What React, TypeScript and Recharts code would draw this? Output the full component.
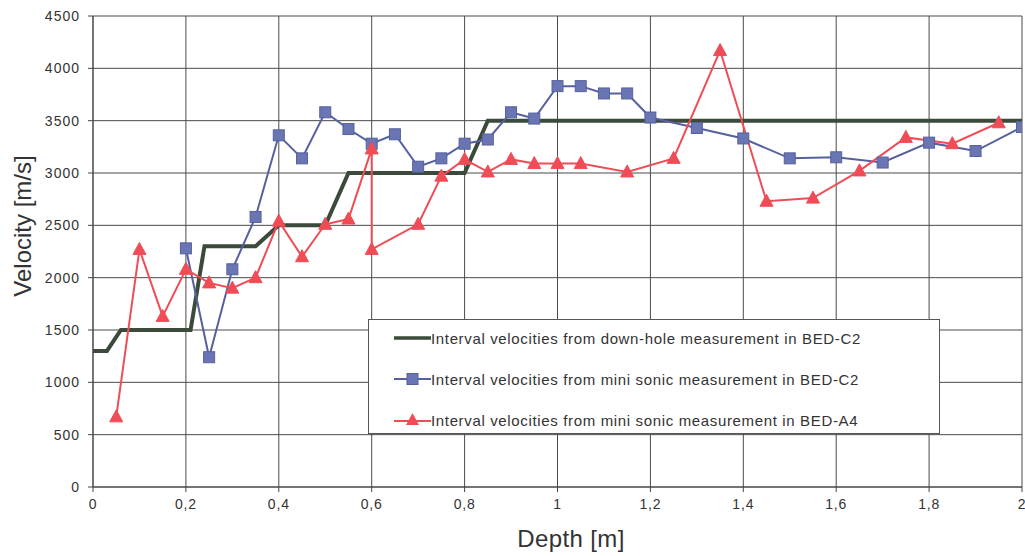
import React from 'react';
import { LineChart, Line, XAxis, YAxis, CartesianGrid, Legend, Label } from 'recharts';

// Depth ticks / labels
const xTicks = [0, 0.2, 0.4, 0.6, 0.8, 1, 1.2, 1.4, 1.6, 1.8, 2];
const xTickLabels = ['0', '0,2', '0,4', '0,6', '0,8', '1', '1,2', '1,4', '1,6', '1,8', '2'];
const yTicks = [0, 500, 1000, 1500, 2000, 2500, 3000, 3500, 4000, 4500];

// Interval velocities from down-hole measurement in BED-C2 (step profile)
const downholeDepth = [0, 0.03, 0.06, 0.21, 0.24, 0.35, 0.4, 0.5, 0.55, 0.8, 0.85, 2.0];
const downholeVel = [1300, 1300, 1500, 1500, 2300, 2300, 2500, 2500, 3000, 3000, 3500, 3500];

// Mini sonic BED-C2
const sonicC2Depth = [0.2, 0.25, 0.3, 0.35, 0.4, 0.45, 0.5, 0.55, 0.6, 0.65, 0.7, 0.75, 0.8, 0.85, 0.9, 0.95, 1.0, 1.05, 1.1, 1.15, 1.2, 1.3, 1.4, 1.5, 1.6, 1.7, 1.8, 1.9, 2.0];
const sonicC2Vel = [2280, 1240, 2080, 2580, 3360, 3140, 3580, 3420, 3280, 3370, 3060, 3140, 3280, 3320, 3580, 3520, 3830, 3830, 3760, 3760, 3530, 3430, 3330, 3140, 3150, 3100, 3290, 3210, 3440];

// Mini sonic BED-A4
const sonicA4Depth = [0.05, 0.1, 0.15, 0.2, 0.25, 0.3, 0.35, 0.4, 0.45, 0.5, 0.55, 0.6, 0.6, 0.7, 0.75, 0.8, 0.85, 0.9, 0.95, 1.0, 1.05, 1.15, 1.25, 1.35, 1.45, 1.55, 1.65, 1.75, 1.85, 1.95];
const sonicA4Vel = [670, 2270, 1630, 2080, 1950, 1900, 2000, 2540, 2200, 2510, 2560, 3230, 2270, 2510, 2970, 3130, 3010, 3130, 3090, 3090, 3090, 3010, 3140, 4170, 2730, 2760, 3020, 3340, 3280, 3480];

const seriesNames = [
  'Interval velocities from down-hole measurement in BED-C2',
  'Interval velocities from mini sonic measurement in BED-C2',
  'Interval velocities from mini sonic measurement in BED-A4',
];

const toPoints = (xs: number[], ys: number[]) => xs.map((x, i) => ({ x, v: ys[i] }));
const downholeData = toPoints(downholeDepth, downholeVel);
const sonicC2Data = toPoints(sonicC2Depth, sonicC2Vel);
const sonicA4Data = toPoints(sonicA4Depth, sonicA4Vel);

const FONT = '"Liberation Sans", Arial, sans-serif';
const GREEN = '#3b4a3b';
const BLUE_LINE = '#56609e';
const BLUE_FILL = '#6a76b3';
const RED = '#f04c56';

const SquareDot = (props: any) => {
  const { cx, cy, index } = props;
  if (cx == null || cy == null) return <g key={`s${index}`} />;
  return <rect key={`s${index}`} x={cx - 5.5} y={cy - 5.5} width={11} height={11} fill={BLUE_FILL} stroke={BLUE_LINE} strokeWidth={1} />;
};

const TriDot = (props: any) => {
  const { cx, cy, index } = props;
  if (cx == null || cy == null) return <g key={`t${index}`} />;
  const p = `${cx},${cy - 7} ${cx + 6.5},${cy + 5} ${cx - 6.5},${cy + 5}`;
  return <polygon key={`t${index}`} points={p} fill={RED} stroke={RED} strokeWidth={1} />;
};

const LegendContent = () => (
  <div
    style={{
      width: 572,
      height: 115,
      background: '#fff',
      border: '1px solid #555',
      boxSizing: 'border-box',
      fontFamily: FONT,
      fontSize: 15,
      color: '#333',
      paddingTop: 1,
    }}
  >
    {seriesNames.map((name, i) => (
      <div key={name} style={{ display: 'flex', alignItems: 'center', height: 34, marginBottom: i < 2 ? 7 : 0, paddingLeft: 25, whiteSpace: 'nowrap' }}>
        <svg width={37} height={16} style={{ flex: 'none' }}>
          {i === 0 && <line x1={0} y1={8} x2={37} y2={8} stroke={GREEN} strokeWidth={3.5} />}
          {i === 1 && (
            <g>
              <line x1={0} y1={8} x2={37} y2={8} stroke={BLUE_LINE} strokeWidth={2} />
              <rect x={13} y={2.5} width={11} height={11} fill={BLUE_FILL} stroke={BLUE_LINE} />
            </g>
          )}
          {i === 2 && (
            <g>
              <line x1={0} y1={9} x2={37} y2={9} stroke={RED} strokeWidth={2} />
              <polygon points="18.5,1 25,13 12,13" fill={RED} />
            </g>
          )}
        </svg>
        <span style={{ letterSpacing: 0.65 }}>{name}</span>
      </div>
    ))}
  </div>
);

export default function App() {
  return (
    <div style={{ position: 'absolute', left: 0, top: 0, width: 1025, height: 556, background: '#fff' }}>
      <LineChart width={1025} height={556} margin={{ top: 16, right: 3, left: 33, bottom: 39 }}>
        <CartesianGrid stroke="#4a4a4a" strokeWidth={1} />
        <XAxis
          type="number"
          dataKey="x"
          domain={[0, 2]}
          ticks={xTicks}
          tickFormatter={(v: number) => xTickLabels[xTicks.indexOf(v)] ?? String(v).replace('.', ',')}
          height={30}
          tickSize={5}
          tickMargin={7}
          stroke="#444"
          tick={{ fill: '#333', fontSize: 14, fontFamily: FONT, letterSpacing: 0.8 }}
          interval={0}
          allowDataOverflow
        >
          <Label
            content={() => (
              <text x={571} y={547} textAnchor="middle" fontFamily={FONT} fontSize={24} fill="#333" letterSpacing={0.4}>
                Depth [m]
              </text>
            )}
          />
        </XAxis>
        <YAxis
          type="number"
          domain={[0, 4500]}
          ticks={yTicks}
          width={60}
          tickSize={5}
          tickMargin={8}
          stroke="#444"
          tick={{ fill: '#333', fontSize: 14, fontFamily: FONT, letterSpacing: 1 }}
          interval={0}
          allowDataOverflow
        >
          <Label
            content={() => (
              <text x={31} y={226} transform="rotate(-90 31 226)" textAnchor="middle" fontFamily={FONT} fontSize={24} fill="#333">
                Velocity [m/s]
              </text>
            )}
          />
        </YAxis>
        <Legend
          layout="vertical"
          align="center"
          verticalAlign="middle"
          content={LegendContent}
          wrapperStyle={{ left: 368, top: 319, width: 572, height: 115 }}
        />
        <Line data={downholeData} dataKey="v" name={seriesNames[0]} type="linear" stroke={GREEN} strokeWidth={4} dot={false} isAnimationActive={false} />
        <Line data={sonicC2Data} dataKey="v" name={seriesNames[1]} type="linear" stroke={BLUE_LINE} strokeWidth={2} dot={SquareDot} isAnimationActive={false} />
        <Line data={sonicA4Data} dataKey="v" name={seriesNames[2]} type="linear" stroke={RED} strokeWidth={2} dot={TriDot} isAnimationActive={false} />
      </LineChart>
    </div>
  );
}
